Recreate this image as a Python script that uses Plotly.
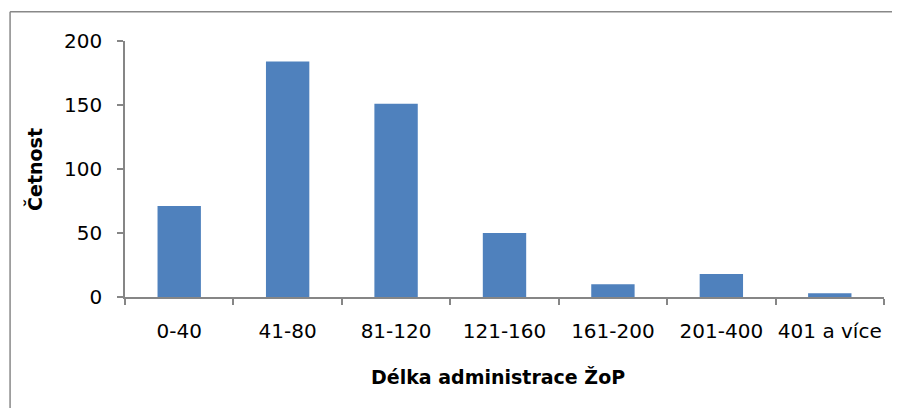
import plotly.graph_objects as go

categories = ["0-40", "41-80", "81-120", "121-160", "161-200", "201-400", "401 a více"]
counts = [71, 184, 151, 50, 10, 18, 3]
y_ticks = [0, 50, 100, 150, 200]

# page has an 8px body margin; the figure is offset by it
OFF = 8
W, H = 900 - OFF, 408 - OFF
ML, MT = 125 - OFF, 41.3 - OFF
MR = W - (884.5 - OFF)
MB = H - (297 - OFF)
pw = W - ML - MR
ph = H - MT - MB

def px_x(px):
    return (px - OFF - ML) / pw

def px_y(py):
    return (H - MB - (py - OFF)) / ph

FONT = "DejaVu Sans"
AX = "#868686"
BORDER = dict(color="#888888", width=1.5)

fig = go.Figure(go.Bar(
    x=categories, y=counts,
    marker=dict(color="#4F81BD", line=dict(width=0)),
    width=0.4,
))

fig.update_layout(
    width=W, height=H,
    margin=dict(l=ML, r=MR, t=MT, b=MB, pad=0, autoexpand=False),
    paper_bgcolor="white", plot_bgcolor="white",
    showlegend=False,
    font=dict(family=FONT, size=20, color="black"),
    xaxis=dict(
        type="category", range=[-0.5, 6.5], automargin=False,
        showline=True, linecolor=AX, linewidth=1.5,
        ticks="outside", tickson="boundaries", ticklen=6, tickcolor=AX, tickwidth=1.5,
        showgrid=False, zeroline=False, tickangle=0,
        tickfont=dict(family=FONT, size=20),
        ticklabelstandoff=15,
    ),
    yaxis=dict(
        range=[0, 200], tickvals=y_ticks, automargin=False,
        showline=True, linecolor=AX, linewidth=1.5,
        ticks="outside", ticklen=6, tickcolor=AX, tickwidth=1.5,
        showgrid=False, zeroline=False,
        tickfont=dict(family=FONT, size=20),
        ticklabelstandoff=11,
    ),
    annotations=[
        dict(text="<b>Délka administrace ŽoP</b>", xref="paper", yref="paper",
             x=px_x(498), y=px_y(377), xanchor="center", yanchor="middle",
             showarrow=False, font=dict(family=FONT, size=19)),
        dict(text="<b>Četnost</b>", xref="paper", yref="paper",
             x=px_x(35), y=px_y(170), xanchor="center", yanchor="middle",
             textangle=-90, showarrow=False, font=dict(family=FONT, size=19)),
    ],
    shapes=[
        dict(type="line", xref="paper", yref="paper",
             x0=px_x(10), x1=px_x(900), y0=px_y(12), y1=px_y(12),
             line=BORDER, layer="below"),
        dict(type="line", xref="paper", yref="paper",
             x0=px_x(10), x1=px_x(10), y0=px_y(12), y1=px_y(408),
             line=BORDER, layer="below"),
    ],
)

fig.write_html(
    "out.html",
    config={"displayModeBar": False},
    post_script="document.documentElement.style.overflow='hidden';document.body.style.overflow='hidden';",
)
